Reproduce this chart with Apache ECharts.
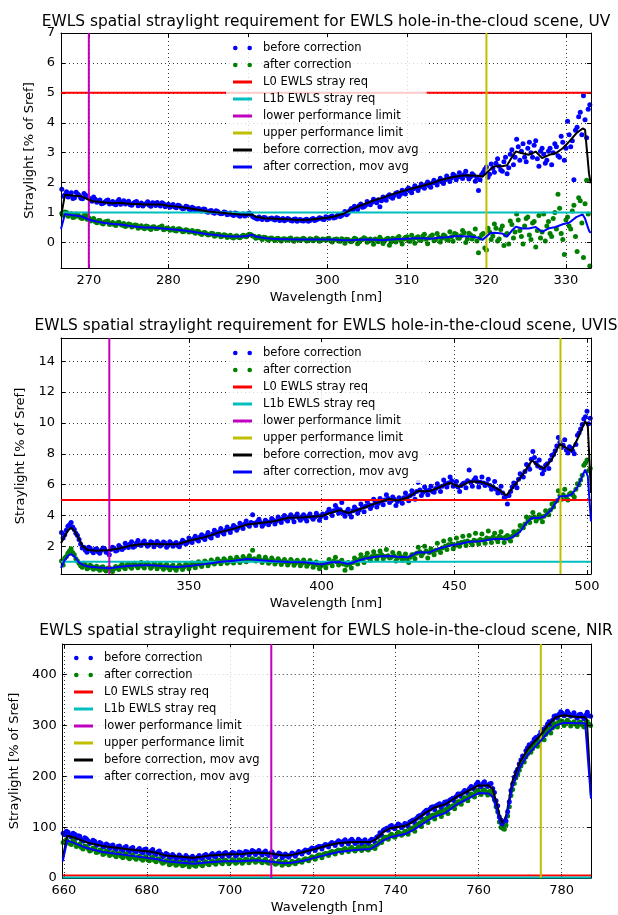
<!DOCTYPE html>
<html>
<head>
<meta charset="utf-8">
<script src="https://cdn.jsdelivr.net/npm/echarts@6/dist/echarts.min.js"></script>
<style>
  html, body { margin: 0; padding: 0; background: #fff; }
  #chart { width: 618px; height: 915px; }
</style>
</head>
<body>
<div id="chart"></div>
<script>
// ---- Requirement levels [% of Sref] ----
const L0_REQ = 5;
const L1B_REQ = 1;

// ---- UV band ----
const uvTitle = 'EWLS spatial straylight requirement for EWLS hole-in-the-cloud scene, UV';
const uvXTicks = [270, 280, 290, 300, 310, 320, 330];
const uvYTicks = [0, 1, 2, 3, 4, 5, 6, 7];
const uvLimits = [270, 320];
// two interleaved pixel sets on a 0.4 nm grid
const uvSampleStartA = 266.6, uvSampleStartB = 266.8, uvSampleStep = 0.4;
const uvBeforeA = [
  1.78,1.60,1.52,1.66,1.50,1.62,1.48,1.64,1.53,1.44,
  1.52,1.35,1.42,1.31,1.40,1.29,1.37,1.26,1.44,1.34,
  1.29,1.38,1.25,1.35,1.23,1.32,1.28,1.36,1.21,1.31,
  1.34,1.22,1.30,1.24,1.18,1.27,1.16,1.23,1.13,1.21,
  1.12,1.18,1.08,1.14,1.05,1.11,1.01,1.07,0.98,1.04,
  0.96,1.02,0.93,0.99,0.90,0.97,0.88,0.95,0.91,0.99,
  0.87,0.81,0.85,0.77,0.83,0.78,0.82,0.75,0.81,0.77,
  0.73,0.80,0.74,0.78,0.71,0.77,0.72,0.78,0.74,0.80,
  0.76,0.83,0.78,0.86,0.81,0.89,0.84,0.94,0.90,1.04,
  0.98,1.14,1.21,1.10,1.29,1.20,1.37,1.26,1.45,1.33,
  1.20,1.52,1.41,1.60,1.48,1.65,1.54,1.75,1.62,1.82,
  1.66,1.90,1.74,1.96,1.81,2.02,1.85,2.08,1.92,2.15,
  1.97,2.22,2.04,2.28,2.10,2.33,2.14,2.38,2.12,2.30,
  2.05,1.74,2.27,2.45,2.18,2.62,2.35,2.80,2.42,2.70,
  2.30,2.95,2.60,3.45,2.75,3.30,2.70,3.35,2.85,3.40,
  2.55,3.15,2.65,3.05,2.60,3.30,2.90,3.55,2.75,4.05,
  3.20,2.10,3.85,4.35,4.90,3.50,4.60
];
const uvBeforeB = [
  1.55,1.70,1.58,1.47,1.68,1.57,1.46,1.58,1.49,1.38,
  1.45,1.39,1.30,1.35,1.42,1.33,1.29,1.37,1.28,1.40,
  1.33,1.26,1.31,1.37,1.27,1.22,1.30,1.25,1.33,1.24,
  1.27,1.33,1.20,1.28,1.22,1.19,1.25,1.17,1.15,1.20,
  1.09,1.15,1.12,1.06,1.12,1.03,1.05,1.00,1.06,0.99,
  0.97,1.00,0.95,0.94,0.99,0.91,0.93,0.89,0.96,0.93,
  0.84,0.79,0.81,0.84,0.76,0.80,0.78,0.83,0.74,0.80,
  0.76,0.78,0.72,0.79,0.75,0.73,0.76,0.71,0.78,0.74,
  0.79,0.81,0.77,0.84,0.86,0.82,0.89,0.87,0.97,0.93,
  1.06,1.09,1.16,1.23,1.18,1.25,1.31,1.35,1.38,1.43,
  1.40,1.46,1.55,1.52,1.57,1.67,1.61,1.68,1.76,1.72,
  1.80,1.82,1.85,1.88,1.94,1.90,1.99,2.00,2.05,2.03,
  2.10,2.13,2.16,2.24,2.19,2.21,2.27,2.22,2.20,2.25,
  2.17,2.10,2.35,2.52,2.28,2.48,2.65,2.55,2.38,2.85,
  2.50,3.10,2.85,3.20,3.05,2.85,3.15,3.00,3.25,2.80,
  3.05,2.95,2.75,3.15,3.00,3.20,2.85,3.35,3.15,3.60,
  3.40,3.75,4.20,3.60,4.10,4.45
];
const uvAfterA = [
  0.98,1.02,0.88,0.96,0.85,0.93,0.82,0.90,0.78,0.72,
  0.80,0.66,0.74,0.62,0.70,0.60,0.67,0.57,0.68,0.58,
  0.54,0.62,0.52,0.59,0.48,0.56,0.46,0.54,0.44,0.53,
  0.47,0.52,0.43,0.49,0.41,0.48,0.39,0.46,0.36,0.43,
  0.35,0.40,0.31,0.37,0.27,0.34,0.25,0.31,0.21,0.28,
  0.19,0.26,0.17,0.24,0.15,0.23,0.16,0.24,0.19,0.28,
  0.22,0.14,0.20,0.10,0.17,0.08,0.15,0.07,0.14,0.05,
  0.13,0.08,0.15,0.04,0.12,0.07,0.14,0.05,0.13,0.06,
  0.15,0.04,0.12,0.08,0.14,0.02,0.11,0.05,0.13,-0.02,
  0.10,0.03,0.14,-0.04,0.09,0.16,0.01,0.12,-0.06,0.08,
  0.18,-0.03,0.11,-0.09,0.14,0.02,0.20,-0.05,0.17,0.05,
  0.24,-0.02,0.19,0.08,0.28,-0.04,0.21,0.06,0.30,0.02,
  0.25,0.10,0.36,0.04,0.28,0.14,0.40,0.00,0.31,0.12,
  0.45,-0.34,0.26,-0.18,0.48,0.10,0.62,0.05,0.44,-0.10,
  0.30,0.72,0.15,0.95,0.40,-0.05,0.80,0.25,0.65,-0.15,
  0.90,0.35,0.05,0.70,0.20,1.00,1.61,0.30,-0.40,0.85,
  0.45,1.25,-0.30,1.40,-0.50,2.08,-0.78
];
const uvAfterB = [
  0.90,1.00,0.93,0.84,0.95,0.87,0.80,0.92,0.83,0.75,
  0.70,0.74,0.65,0.69,0.72,0.63,0.60,0.66,0.61,0.64,
  0.57,0.60,0.55,0.58,0.51,0.50,0.55,0.48,0.52,0.47,
  0.50,0.55,0.45,0.47,0.44,0.40,0.45,0.42,0.38,0.41,
  0.37,0.35,0.38,0.30,0.33,0.29,0.27,0.30,0.24,0.27,
  0.22,0.24,0.20,0.18,0.21,0.18,0.20,0.22,0.25,0.26,
  0.21,0.17,0.15,0.18,0.12,0.14,0.11,0.13,0.09,0.12,
  0.10,0.13,0.08,0.11,0.09,0.12,0.10,0.07,0.11,0.09,
  0.12,0.07,0.10,0.13,0.06,0.09,0.12,0.04,0.09,0.11,
  0.05,0.08,0.12,0.02,0.10,0.13,0.05,0.07,0.12,0.03,
  0.10,0.06,0.14,0.02,0.09,0.15,0.07,0.11,0.19,0.04,
  0.13,0.16,0.08,0.22,0.11,0.15,0.25,0.09,0.18,0.14,
  0.22,0.08,0.19,0.30,0.15,0.23,0.33,0.12,0.26,0.20,
  0.05,0.15,0.30,-0.25,0.35,0.22,0.48,0.12,0.55,0.25,
  -0.05,0.60,0.35,0.75,0.20,0.55,0.85,0.10,0.70,0.40,
  0.15,0.95,0.55,0.30,0.80,0.45,1.15,0.10,0.75,0.55,
  1.05,0.20,1.50,0.65,1.30,0.95
];
const uvAvgWl = [
  266.5,267.0,268.0,269.0,270.0,270.5,271.0,272.0,273.0,274.0,
  275.0,276.0,277.0,278.0,279.0,280.0,281.0,282.0,283.0,284.0,
  285.0,286.0,287.0,288.0,289.0,290.0,290.5,291.0,292.0,293.0,
  294.0,295.0,296.0,297.0,298.0,299.0,300.0,301.0,302.0,303.0,
  304.0,305.0,306.0,307.0,308.0,309.0,310.0,311.0,312.0,313.0,
  314.0,315.0,316.0,317.0,318.0,319.0,319.5,320.0,320.5,321.0,
  322.0,322.6,323.2,323.7,324.5,325.3,326.2,327.0,327.9,328.7,
  329.6,330.4,331.3,332.1,332.4,332.9,333.1
];
const uvAvgBefore = [
  0.87,1.60,1.57,1.55,1.43,1.38,1.37,1.34,1.31,1.33,
  1.30,1.29,1.27,1.27,1.27,1.23,1.20,1.17,1.13,1.09,
  1.04,1.01,0.99,0.96,0.94,0.93,0.93,0.86,0.81,0.80,
  0.79,0.78,0.76,0.75,0.77,0.80,0.83,0.88,0.96,1.10,
  1.22,1.32,1.42,1.50,1.60,1.68,1.76,1.83,1.90,1.97,
  2.07,2.14,2.20,2.24,2.24,2.23,2.20,2.32,2.45,2.55,
  2.55,2.58,2.85,3.04,2.98,2.93,3.04,2.82,2.93,2.98,
  3.15,3.37,3.65,3.81,3.77,2.30,1.98
];
const uvAvgAfter = [
  0.45,0.95,0.91,0.88,0.77,0.73,0.70,0.65,0.62,0.60,
  0.56,0.53,0.50,0.50,0.48,0.45,0.43,0.40,0.36,0.32,
  0.28,0.25,0.22,0.20,0.20,0.22,0.26,0.20,0.15,0.13,
  0.11,0.11,0.10,0.10,0.10,0.10,0.10,0.09,0.08,0.08,
  0.09,0.10,0.09,0.08,0.10,0.12,0.13,0.14,0.14,0.13,
  0.16,0.18,0.21,0.21,0.20,0.16,0.09,0.20,0.32,0.33,
  0.30,0.20,0.40,0.53,0.47,0.47,0.52,0.36,0.48,0.52,
  0.61,0.66,0.85,0.94,0.80,0.40,0.32
];

// ---- UVIS band ----
const uvisTitle = 'EWLS spatial straylight requirement for EWLS hole-in-the-cloud scene, UVIS';
const uvisXTicks = [350, 400, 450, 500];
const uvisYTicks = [2, 4, 6, 8, 10, 12, 14];
const uvisLimits = [320, 490];
const uvisSampleStartA = 302.0, uvisSampleStartB = 302.6, uvisSampleStep = 1.2;
const uvisBeforeA = [
  2.90,2.75,3.30,3.55,3.10,2.70,2.15,1.95,1.62,1.88,
  1.58,1.85,1.55,1.90,1.62,1.45,1.95,1.70,2.05,1.80,
  2.20,1.92,2.30,2.00,2.38,2.05,2.35,2.00,2.30,1.98,
  2.32,2.02,2.28,1.95,2.30,2.00,2.25,1.98,2.40,2.15,
  2.55,2.25,2.65,2.35,2.75,2.45,2.90,2.55,3.05,2.70,
  3.15,2.80,3.25,2.90,3.35,3.05,3.50,3.15,3.65,3.30,
  4.05,3.35,3.75,3.30,3.70,3.40,3.80,3.45,3.90,3.55,
  4.00,3.65,4.05,3.60,4.10,3.70,4.05,3.65,4.10,3.75,
  4.15,3.70,4.10,3.85,4.40,4.00,4.65,4.15,4.85,3.95,
  4.40,3.90,4.55,4.15,4.75,4.25,4.90,4.45,5.05,4.55,
  5.10,4.70,5.35,4.85,5.20,4.65,5.15,4.80,5.45,4.95,
  5.60,5.05,6.15,5.30,5.85,5.35,5.90,5.50,6.05,5.55,
  6.30,5.85,6.50,5.90,6.20,5.55,6.05,5.80,6.95,5.90,
  6.45,5.85,6.50,5.95,6.35,5.70,6.20,5.45,5.90,5.15,
  4.75,5.55,6.10,5.80,6.70,6.50,7.30,7.00,8.15,7.40,
  7.60,6.70,7.25,7.05,7.90,8.20,9.05,8.40,8.90,8.05,
  8.35,8.00,9.20,9.60,10.25,10.75,10.30
];
const uvisBeforeB = [
  2.55,3.05,3.40,3.25,2.85,2.45,1.90,1.75,1.95,1.70,
  1.80,1.65,1.75,1.85,1.60,1.80,1.88,1.75,1.95,1.90,
  2.05,2.15,1.95,2.20,2.10,2.25,2.15,2.10,2.25,2.12,
  2.20,2.10,2.22,2.08,2.18,2.15,2.05,2.20,2.30,2.25,
  2.40,2.50,2.45,2.60,2.55,2.70,2.62,2.80,2.85,2.95,
  2.90,3.05,3.10,3.15,3.25,3.20,3.35,3.45,3.40,3.55,
  3.50,3.60,3.55,3.45,3.60,3.58,3.70,3.65,3.75,3.80,
  3.75,3.90,3.82,3.95,3.85,3.92,3.80,3.95,3.88,3.90,
  4.00,3.95,4.05,4.20,4.25,4.30,4.45,4.38,4.15,4.25,
  4.10,4.30,4.40,4.35,4.55,4.60,4.70,4.65,4.85,4.80,
  4.95,5.00,5.10,4.95,5.05,4.90,5.00,5.15,5.20,5.30,
  5.40,5.55,5.65,5.50,5.60,5.65,5.55,5.75,5.85,5.90,
  6.05,6.10,6.25,5.95,5.85,5.95,6.10,6.25,6.15,6.30,
  6.20,6.15,6.10,6.05,5.95,5.85,5.70,5.60,5.45,5.25,
  5.30,5.85,6.05,6.35,6.60,6.85,7.20,7.65,7.75,7.20,
  7.10,6.95,7.35,7.60,7.95,8.50,8.75,8.55,8.25,8.45,
  8.20,8.60,9.35,9.90,10.40,9.95
];
const uvisAfterA = [
  1.05,1.25,1.55,1.85,1.45,1.05,0.75,0.90,0.55,0.78,
  0.52,0.72,0.45,0.68,0.40,0.62,0.38,0.70,0.50,0.85,
  0.55,0.88,0.58,0.90,0.62,0.95,0.60,0.92,0.58,0.88,
  0.55,0.85,0.52,0.82,0.48,0.78,0.45,0.80,0.50,0.85,
  0.55,0.92,0.62,1.00,0.70,1.05,0.75,1.12,0.85,1.18,
  0.88,1.20,0.90,1.25,0.92,1.30,0.95,1.35,1.00,1.40,
  1.75,1.05,1.35,0.95,1.30,0.90,1.25,0.85,1.20,0.82,
  1.15,0.80,1.15,0.78,1.10,0.75,1.12,0.72,1.08,0.65,
  0.98,0.55,0.90,0.62,1.15,0.75,1.30,0.80,1.10,0.45,
  0.95,0.60,1.25,0.85,1.45,0.95,1.55,1.10,1.65,1.15,
  1.70,1.20,1.80,1.25,1.60,1.05,1.55,1.10,1.50,0.95,
  1.45,1.20,1.95,1.40,2.00,1.25,1.85,1.45,2.20,1.60,
  2.35,1.80,2.45,1.85,2.55,2.00,2.65,2.05,2.70,2.10,
  2.85,2.15,2.80,2.20,3.00,2.25,2.85,2.30,2.95,2.25,
  2.70,2.35,2.95,2.75,3.35,3.20,3.90,3.55,4.20,3.65,
  4.05,3.60,4.30,4.05,4.75,4.90,5.60,5.05,5.70,5.00,
  5.45,5.20,6.05,6.30,7.25,7.60,7.05
];
const uvisAfterB = [
  0.80,1.35,1.70,1.60,1.20,0.90,0.65,0.80,0.62,0.70,
  0.60,0.55,0.65,0.50,0.58,0.48,0.55,0.62,0.72,0.65,
  0.78,0.70,0.82,0.75,0.80,0.72,0.85,0.78,0.70,0.80,
  0.72,0.68,0.75,0.62,0.70,0.58,0.65,0.72,0.68,0.78,
  0.75,0.80,0.85,0.82,0.90,0.95,0.92,1.00,0.98,1.05,
  1.02,1.08,1.00,1.12,1.08,1.15,1.10,1.18,1.22,1.15,
  1.20,1.15,1.12,1.08,1.10,1.02,1.08,1.00,1.05,0.98,
  1.00,0.95,1.02,0.92,0.98,0.90,0.95,0.88,0.92,0.85,
  0.80,0.75,0.82,0.90,0.95,1.05,0.98,1.00,0.85,0.78,
  0.85,0.95,1.05,1.15,1.20,1.30,1.25,1.35,1.40,1.38,
  1.45,1.35,1.40,1.30,1.38,1.25,1.35,1.28,1.20,1.30,
  1.45,1.55,1.65,1.55,1.70,1.60,1.65,1.75,1.80,1.90,
  2.00,2.10,2.15,2.05,2.20,2.25,2.30,2.35,2.25,2.40,
  2.35,2.45,2.40,2.55,2.50,2.60,2.50,2.65,2.55,2.60,
  2.50,2.65,2.80,3.00,3.25,3.45,3.70,3.85,3.90,3.80,
  3.85,3.95,4.10,4.35,4.55,4.95,5.30,5.35,5.20,5.40,
  5.35,5.70,6.00,6.60,7.40,6.90
];
const uvisAvgWl = [
  301.8,303.0,304.5,305.6,307.0,308.5,310.0,312.0,315.0,320.0,
  324.0,328.0,332.0,336.0,341.0,345.5,350.0,356.0,362.0,367.0,
  372.0,377.0,382.0,387.5,393.5,400.0,403.5,407.0,410.0,416.0,
  421.0,425.5,428.7,432.5,436.2,440.5,444.0,448.3,451.8,455.7,
  460.0,464.0,467.4,469.6,471.9,474.8,477.0,479.3,481.5,483.7,
  486.7,489.7,491.9,494.1,496.3,499.3,500.3,501.5
];
const uvisAvgBefore = [
  2.20,2.60,3.05,3.20,3.00,2.50,2.00,1.76,1.72,1.76,
  1.88,2.05,2.14,2.16,2.14,2.13,2.36,2.60,2.94,3.15,
  3.42,3.52,3.62,3.85,3.88,3.97,4.18,4.35,4.16,4.50,
  4.83,5.07,4.97,5.17,5.59,5.57,5.80,6.13,5.86,6.20,
  6.18,5.94,5.61,5.30,5.78,6.43,6.97,7.58,7.23,7.04,
  7.62,8.64,8.42,8.16,8.92,10.11,9.78,5.46
];
const uvisAvgAfter = [
  0.59,1.05,1.40,1.50,1.32,0.98,0.80,0.70,0.65,0.59,
  0.68,0.74,0.77,0.77,0.72,0.66,0.73,0.85,1.00,1.07,
  1.18,1.10,1.04,0.99,0.97,0.82,0.97,0.98,0.86,1.20,
  1.35,1.37,1.33,1.29,1.62,1.60,1.85,2.05,2.15,2.30,
  2.33,2.46,2.50,2.45,2.60,2.95,3.50,3.85,3.84,3.90,
  4.40,5.24,5.25,5.35,5.80,6.97,6.54,3.62
];

// ---- NIR band ----
const nirTitle = 'EWLS spatial straylight requirement for EWLS hole-in-the-cloud scene, NIR';
const nirXTicks = [660, 680, 700, 720, 740, 760, 780];
const nirYTicks = [0, 100, 200, 300, 400];
const nirLimits = [710, 775];
const nirSampleStartA = 659.8, nirSampleStartB = 660.2, nirSampleStep = 0.8;
const nirBeforeA = [
  88,92,84,88,78,82,72,77,68,74,
  64,70,61,67,58,65,56,63,54,62,
  52,60,51,58,49,57,48,56,46,53,
  42,48,39,46,38,45,37,44,35,43,
  36,44,38,46,40,48,41,49,42,50,
  43,50,43,51,44,52,45,54,46,54,
  45,53,44,51,42,49,40,47,41,49,
  43,52,47,55,50,59,54,62,57,66,
  61,70,64,73,66,75,67,76,68,76,
  67,75,68,76,70,82,84,95,94,103,
  97,106,99,107,101,112,108,121,118,130,
  126,139,134,144,138,149,143,155,151,165,
  160,172,166,180,174,188,179,189,180,186,
  168,142,114,108,130,172,198,214,232,238,
  256,258,273,271,287,285,302,300,318,314,
  327,319,328,318,325,314,322,313,326,318
];
const nirBeforeB = [
  85,90,80,86,83,75,79,73,70,72,
  66,68,62,65,63,59,62,57,60,55,
  58,53,55,52,56,50,53,49,51,47,
  44,46,41,43,40,42,38,41,40,37,
  41,40,44,42,45,43,47,45,48,46,
  47,49,46,50,48,51,49,52,50,49,
  50,47,49,46,45,47,43,44,45,47,
  48,50,52,54,56,58,60,62,63,65,
  67,68,70,71,72,71,73,72,70,73,
  72,70,73,75,80,89,94,98,101,99,
  102,104,102,106,110,114,117,123,127,133,
  135,140,142,146,144,150,153,157,160,165,
  168,171,176,178,184,182,186,183,185,176,
  152,120,104,112,150,185,208,224,240,250,
  262,266,276,280,292,296,307,310,319,322,
  324,321,323,320,318,321,317,320,319
];
const nirAfterA = [
  70,75,68,73,62,67,57,62,53,59,
  50,55,46,53,44,50,42,48,40,47,
  38,45,37,43,35,42,34,41,32,38,
  29,34,26,32,25,31,24,30,22,29,
  23,30,24,32,26,33,27,35,28,35,
  28,36,29,36,29,37,30,38,31,38,
  30,37,29,35,27,33,25,32,26,33,
  28,35,31,38,34,42,37,45,40,48,
  44,52,47,55,50,58,52,60,53,61,
  54,62,55,62,58,68,70,80,76,86,
  80,90,84,92,86,97,92,105,101,114,
  109,122,116,128,121,133,127,140,136,150,
  145,158,152,165,159,172,164,173,163,170,
  154,130,100,96,122,162,186,204,220,228,
  244,247,261,259,273,272,288,285,302,297,
  309,300,310,299,307,298,306,297,307,300
];
const nirAfterB = [
  72,70,66,70,64,60,63,58,55,57,
  51,53,48,50,47,45,47,43,45,41,
  43,40,41,38,40,36,39,35,37,33,
  31,33,28,30,27,29,26,28,27,25,
  28,27,30,28,31,30,33,31,34,32,
  32,34,31,35,33,36,34,36,35,33,
  34,31,33,30,29,31,28,29,29,31,
  32,33,36,37,39,41,43,45,46,48,
  50,51,53,54,56,55,57,56,57,58,
  58,57,59,60,65,72,76,80,83,82,
  85,88,87,91,95,99,102,108,112,117,
  119,124,126,130,129,135,138,142,145,150,
  153,156,161,163,169,167,171,168,170,162,
  140,110,98,104,140,174,197,212,228,238,
  250,254,264,267,278,282,292,295,303,306,
  308,304,306,303,302,305,301,304,302
];
const nirAvgWl = [
  659.7,660.8,662.7,665.5,669.3,673.1,676.9,680.7,682.6,684.5,
  688.3,691.2,695.0,698.8,702.6,706.4,710.0,713.0,714.9,717.8,
  720.6,723.5,726.3,730.1,733.9,735.2,737.0,738.7,742.5,744.4,
  747.2,749.2,752.0,754.8,757.7,760.0,762.4,763.4,764.3,765.3,
  765.8,766.7,768.1,770.0,771.9,774.8,776.7,778.6,780.5,783.3,
  785.7,786.1,787.1
];
const nirAvgBefore = [
  40,83,79,70,63,59,55,52,49,44,
  42,40,44,46,47,50,48,44,45,51,
  57,64,69,71,71,76,90,98,103,112,
  128,138,145,160,172,182,182,175,148,115,
  107,124,189,228,254,280,300,316,320,317,
  316,312,160
];
const nirAvgAfter = [
  33,74,68,59,51,47,43,39,37,33,
  30,28,31,33,33,35,32,29,30,34,
  40,46,51,55,57,63,74,80,87,95,
  110,120,128,145,157,167,166,160,135,105,
  103,118,178,218,243,268,286,300,305,304,
  304,301,156
];

// ---- Styling ----
const FONT = 'DejaVu Sans';
const TITLE_SIZE = 15.4;
const C = {
  before: '#0000ff', after: '#008000', l0: '#ff0000', l1b: '#00bfbf',
  lower: '#bf00bf', upper: '#bfbf00', avgBefore: '#000000', avgAfter: '#0000ff'
};
const NAMES = {
  before: 'before correction', after: 'after correction',
  l0: 'L0 EWLS stray req', l1b: 'L1b EWLS stray req',
  lower: 'lower performance limit', upper: 'upper performance limit',
  avgBefore: 'before correction, mov avg', avgAfter: 'after correction, mov avg'
};
const DOTS_ICON = 'path://M0,2.3a2.3,2.3 0 1,0 4.6,0a2.3,2.3 0 1,0 -4.6,0zM14.4,2.3a2.3,2.3 0 1,0 4.6,0a2.3,2.3 0 1,0 -4.6,0z';
const BAR_ICON = 'path://M0,0h19v3h-19z';

const panels = [
  { title: uvTitle, titleTop: 14, grid: { left: 61, top: 33, width: 530, height: 235 },
    xRange: [266.5, 333.15], yRange: [-0.85, 7], xTicks: uvXTicks, yTicks: uvYTicks, limits: uvLimits,
    samples: [[uvSampleStartA, uvBeforeA, uvAfterA], [uvSampleStartB, uvBeforeB, uvAfterB]], step: uvSampleStep,
    avgWl: uvAvgWl, avgBefore: uvAvgBefore, avgAfter: uvAvgAfter,
    legend: { left: 226, top: 37 }, yNameGap: 18 },
  { title: uvisTitle, titleTop: 318, grid: { left: 61, top: 338, width: 530, height: 236 },
    xRange: [301.8, 501.5], yRange: [0.21, 15.5], xTicks: uvisXTicks, yTicks: uvisYTicks, limits: uvisLimits,
    samples: [[uvisSampleStartA, uvisBeforeA, uvisAfterA], [uvisSampleStartB, uvisBeforeB, uvisAfterB]], step: uvisSampleStep,
    avgWl: uvisAvgWl, avgBefore: uvisAvgBefore, avgAfter: uvisAvgAfter,
    legend: { left: 226, top: 342 }, yNameGap: 25 },
  { title: nirTitle, titleTop: 623, grid: { left: 61, top: 644, width: 530, height: 234 },
    xRange: [659.7, 787.1], yRange: [0, 460], xTicks: nirXTicks, yTicks: nirYTicks, limits: nirLimits,
    samples: [[nirSampleStartA, nirBeforeA, nirAfterA], [nirSampleStartB, nirBeforeB, nirAfterB]], step: nirSampleStep,
    avgWl: nirAvgWl, avgBefore: nirAvgBefore, avgAfter: nirAvgAfter,
    legend: { left: 67, top: 647 }, yNameGap: 35 }
];

// Samples on the detector's regular wavelength grid
function sampled(start, step, values) {
  return values.map((v, i) => [Math.round((start + i * step) * 100) / 100, v]);
}
function paired(xs, ys) {
  return xs.map((x, i) => [x, ys[i]]);
}
// Titles are centred over the plotting area rather than the page
const measureCtx = document.createElement('canvas').getContext('2d');
function titleLeft(text, grid) {
  measureCtx.font = TITLE_SIZE + 'px "' + FONT + '"';
  return grid.left + grid.width / 2 - measureCtx.measureText(text).width / 2;
}

const textBase = { fontFamily: FONT, color: '#000' };
const gridLine = { show: true, lineStyle: { color: '#000', width: 0.8, type: [1, 3] } };
const frameLine = { show: true, onZero: false, lineStyle: { color: '#000', width: 1 } };

const option = { animation: false, title: [], grid: [], xAxis: [], yAxis: [], legend: [], series: [] };

panels.forEach((p, i) => {
  option.title.push({
    text: p.title, left: titleLeft(p.title, p.grid), top: p.titleTop, padding: 0,
    textStyle: Object.assign({ fontSize: TITLE_SIZE, fontWeight: 'normal' }, textBase)
  });
  option.grid.push(Object.assign({ containLabel: false }, p.grid));

  const tick = (values) => ({ show: true, inside: true, length: 4, customValues: values, lineStyle: { color: '#000', width: 1 } });

  option.xAxis.push({
    type: 'value', gridIndex: i, position: 'bottom', min: p.xRange[0], max: p.xRange[1], z: 3,
    name: 'Wavelength [nm]', nameLocation: 'middle', nameGap: 23,
    nameTextStyle: Object.assign({ fontSize: 13 }, textBase),
    axisLine: frameLine, axisTick: tick(p.xTicks),
    axisLabel: Object.assign({ customValues: p.xTicks, fontSize: 13, margin: 6 }, textBase),
    splitLine: gridLine
  });
  option.xAxis.push({
    type: 'value', gridIndex: i, position: 'top', min: p.xRange[0], max: p.xRange[1], z: 3,
    axisLine: frameLine, axisTick: tick(p.xTicks), axisLabel: { show: false }, splitLine: { show: false }
  });
  option.yAxis.push({
    type: 'value', gridIndex: i, position: 'left', min: p.yRange[0], max: p.yRange[1], z: 3,
    name: 'Straylight [% of Sref]', nameLocation: 'middle', nameGap: p.yNameGap,
    nameTextStyle: Object.assign({ fontSize: 13 }, textBase),
    axisLine: frameLine, axisTick: tick(p.yTicks),
    axisLabel: Object.assign({ customValues: p.yTicks, fontSize: 13, margin: 6 }, textBase),
    splitLine: gridLine
  });
  option.yAxis.push({
    type: 'value', gridIndex: i, position: 'right', min: p.yRange[0], max: p.yRange[1], z: 3,
    axisLine: frameLine, axisTick: tick(p.yTicks), axisLabel: { show: false }, splitLine: { show: false }
  });

  const ax = { xAxisIndex: 2 * i, yAxisIndex: 2 * i };
  const scatter = (key, data) => Object.assign({
    type: 'scatter', name: NAMES[key], data, symbolSize: 5, silent: true,
    itemStyle: { color: C[key], opacity: 1, borderWidth: 0 }
  }, ax);
  const line = (key, data) => Object.assign({
    type: 'line', name: NAMES[key], data, symbol: 'none', showSymbol: false, silent: true,
    lineStyle: { color: C[key], width: 2 }, itemStyle: { color: C[key] }
  }, ax);

  const beforePts = [], afterPts = [];
  p.samples.forEach(([start, before, after]) => {
    beforePts.push(...sampled(start, p.step, before));
    afterPts.push(...sampled(start, p.step, after));
  });

  option.series.push(
    scatter('before', beforePts),
    scatter('after', afterPts),
    line('l0', [[p.xRange[0], L0_REQ], [p.xRange[1], L0_REQ]]),
    line('l1b', [[p.xRange[0], L1B_REQ], [p.xRange[1], L1B_REQ]]),
    line('lower', [[p.limits[0], p.yRange[0]], [p.limits[0], p.yRange[1]]]),
    line('upper', [[p.limits[1], p.yRange[0]], [p.limits[1], p.yRange[1]]]),
    line('avgBefore', paired(p.avgWl, p.avgBefore)),
    line('avgAfter', paired(p.avgWl, p.avgAfter))
  );

  option.legend.push({
    orient: 'vertical', left: p.legend.left, top: p.legend.top,
    itemWidth: 19, itemHeight: 12, itemGap: 5, padding: [5, 8, 5, 7],
    backgroundColor: 'rgba(255,255,255,0.8)', borderWidth: 0, selectedMode: false,
    itemStyle: { borderWidth: 0 },
    textStyle: Object.assign({ fontSize: 11.5, lineHeight: 12, padding: [0, 0, 0, 6] }, textBase),
    data: Object.keys(NAMES).map(k => ({
      name: NAMES[k],
      icon: (k === 'before' || k === 'after') ? DOTS_ICON : BAR_ICON,
      itemStyle: { color: C[k], borderWidth: 0 }
    }))
  });
});

const chart = echarts.init(document.getElementById('chart'), null, { renderer: 'canvas' });
chart.setOption(option);
</script>
</body>
</html>
